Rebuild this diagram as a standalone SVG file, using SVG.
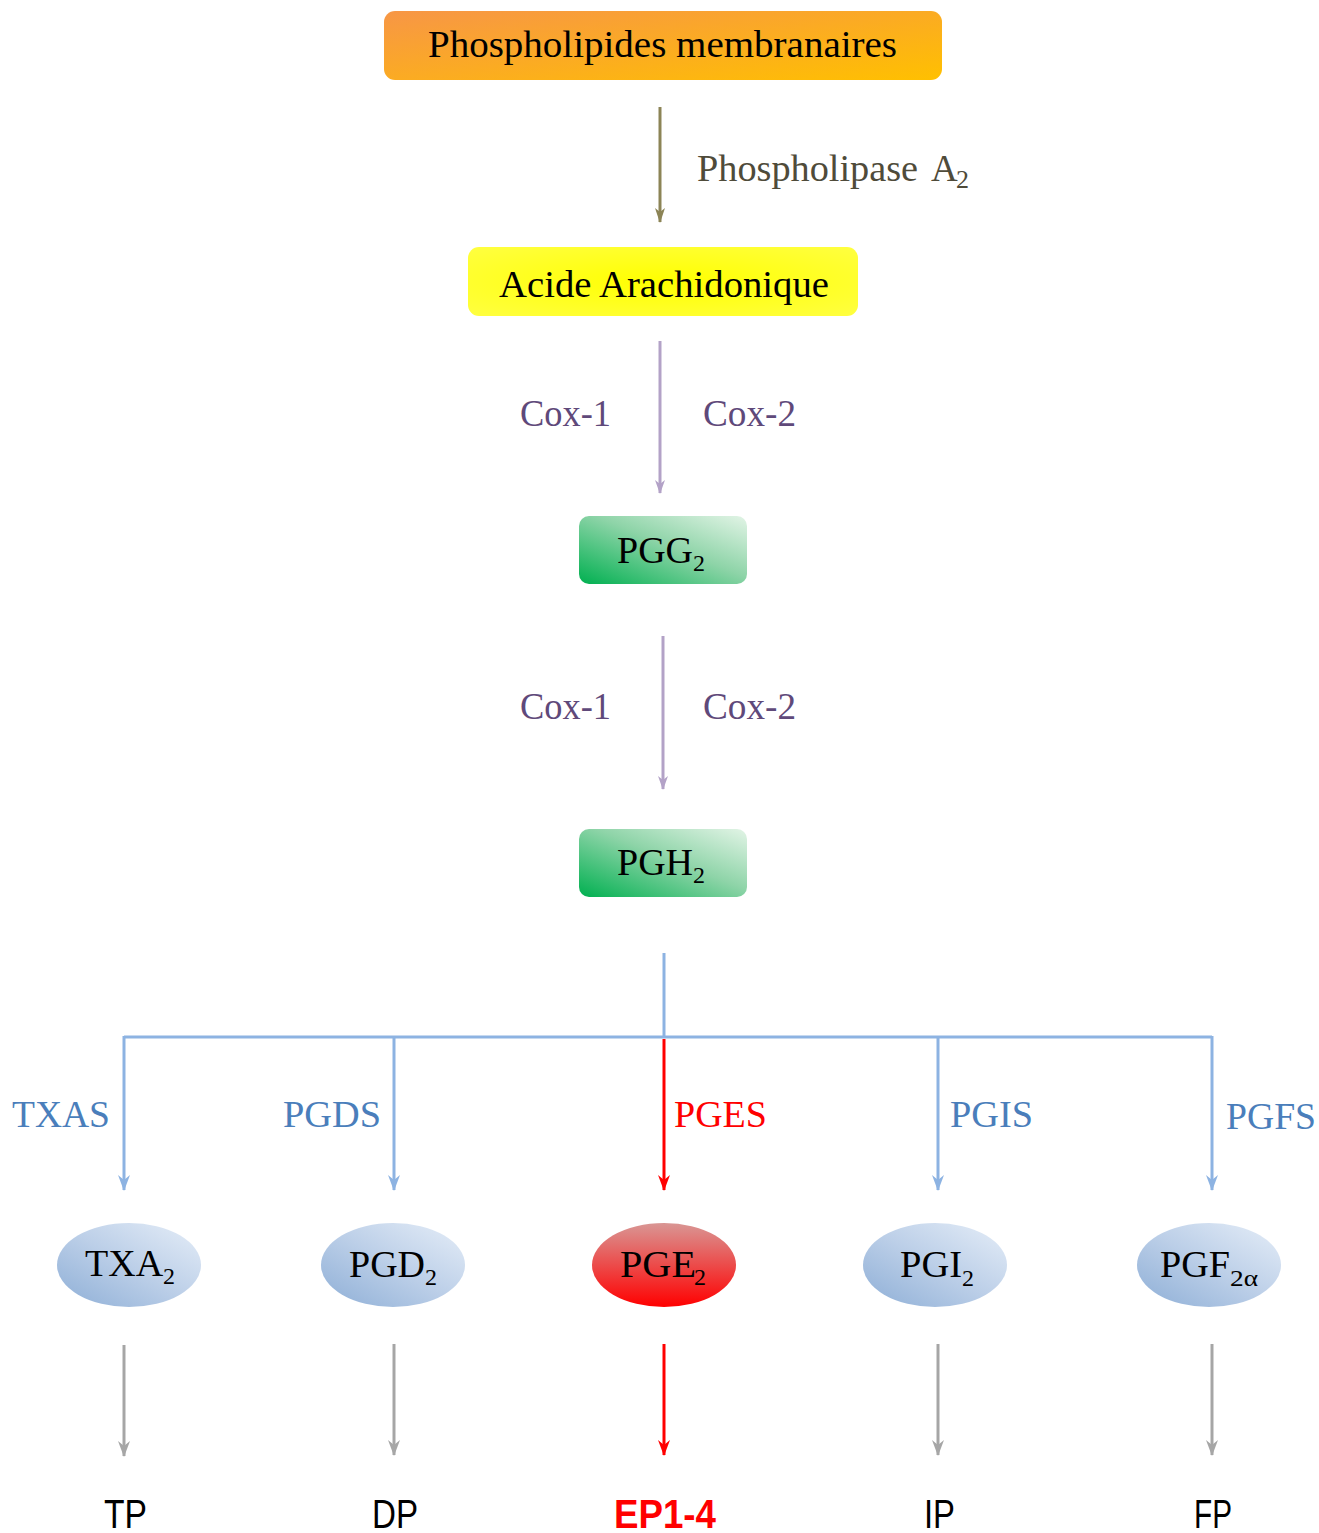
<svg xmlns="http://www.w3.org/2000/svg" width="1319" height="1533" viewBox="0 0 1319 1533">
<defs>
<linearGradient id="gOrange" x1="0" y1="0" x2="1" y2="1">
<stop offset="0" stop-color="#F79646"/><stop offset="1" stop-color="#FFC000"/>
</linearGradient>
<radialGradient id="gYellow" cx="0.5" cy="0.5" r="0.7">
<stop offset="0" stop-color="#FFFF00"/><stop offset="1" stop-color="#FFFF40"/>
</radialGradient>
<linearGradient id="gGreen" x1="0" y1="1" x2="1" y2="0">
<stop offset="0" stop-color="#00B050"/><stop offset="0.55" stop-color="#8ED4A8"/><stop offset="1" stop-color="#E2F4E6"/>
</linearGradient>
<linearGradient id="gBlue" x1="0" y1="1" x2="1" y2="0">
<stop offset="0" stop-color="#8DAED6"/><stop offset="0.5" stop-color="#BCCFE8"/><stop offset="1" stop-color="#E6EEF8"/>
</linearGradient>
<linearGradient id="gRed" x1="0" y1="0" x2="0" y2="1">
<stop offset="0" stop-color="#D99694"/><stop offset="1" stop-color="#FF0000"/>
</linearGradient>
<marker id="aOlive" markerWidth="10" markerHeight="15" refX="5" refY="14" markerUnits="userSpaceOnUse" viewBox="0 0 10 15">
<path d="M0,0 L5,15 L10,0 L5,4 Z" fill="#8C8456"/>
</marker>
<marker id="aPurple" markerWidth="10" markerHeight="14" refX="5" refY="13" markerUnits="userSpaceOnUse" viewBox="0 0 10 14">
<path d="M0,0 L5,14 L10,0 L5,4 Z" fill="#B3A2C7"/>
</marker>
<marker id="aBlue" markerWidth="12" markerHeight="16" refX="6" refY="15" markerUnits="userSpaceOnUse" viewBox="0 0 12 16">
<path d="M0,0 L6,16 L12,0 L6,5 Z" fill="#8DB3E2"/>
</marker>
<marker id="aRed" markerWidth="12" markerHeight="16" refX="6" refY="15" markerUnits="userSpaceOnUse" viewBox="0 0 12 16">
<path d="M0,0 L6,16 L12,0 L6,5 Z" fill="#FF0000"/>
</marker>
<marker id="aGrey" markerWidth="12" markerHeight="16" refX="6" refY="15" markerUnits="userSpaceOnUse" viewBox="0 0 12 16">
<path d="M0,0 L6,16 L12,0 L6,5 Z" fill="#A6A6A6"/>
</marker>
</defs>
<style>
.serif{font-family:"Liberation Serif","Times New Roman",serif;}
.sans{font-family:"Liberation Sans",Arial,sans-serif;}
.node{font-size:38px;fill:#000;}
.cox{font-size:37px;fill:#5F497A;}
.enz{font-size:37px;fill:#4A7EBB;}
.rec{font-size:40px;fill:#000;}
.sub{font-size:24px;}
</style>
<rect width="1319" height="1533" fill="#FFFFFF"/>

<g id="connectors" fill="none">
<line x1="660" y1="107" x2="660" y2="222" stroke="#8C8456" stroke-width="3" marker-end="url(#aOlive)"/>
<line x1="660" y1="341" x2="660" y2="493" stroke="#B3A2C7" stroke-width="3" marker-end="url(#aPurple)"/>
<line x1="663" y1="636" x2="663" y2="789" stroke="#B3A2C7" stroke-width="3" marker-end="url(#aPurple)"/>
<line x1="664" y1="953" x2="664" y2="1037" stroke="#8DB3E2" stroke-width="3"/>
<line x1="124" y1="1037" x2="1212" y2="1037" stroke="#8DB3E2" stroke-width="3"/>
<line x1="124" y1="1036" x2="124" y2="1190" stroke="#8DB3E2" stroke-width="3" marker-end="url(#aBlue)"/>
<line x1="394" y1="1036" x2="394" y2="1190" stroke="#8DB3E2" stroke-width="3" marker-end="url(#aBlue)"/>
<line x1="664" y1="1039" x2="664" y2="1190" stroke="#FF0000" stroke-width="3" marker-end="url(#aRed)"/>
<line x1="938" y1="1036" x2="938" y2="1190" stroke="#8DB3E2" stroke-width="3" marker-end="url(#aBlue)"/>
<line x1="1212" y1="1036" x2="1212" y2="1190" stroke="#8DB3E2" stroke-width="3" marker-end="url(#aBlue)"/>
<line x1="124" y1="1345" x2="124" y2="1456" stroke="#A6A6A6" stroke-width="3" marker-end="url(#aGrey)"/>
<line x1="394" y1="1344" x2="394" y2="1455" stroke="#A6A6A6" stroke-width="3" marker-end="url(#aGrey)"/>
<line x1="664" y1="1344" x2="664" y2="1455" stroke="#FF0000" stroke-width="3" marker-end="url(#aRed)"/>
<line x1="938" y1="1344" x2="938" y2="1455" stroke="#A6A6A6" stroke-width="3" marker-end="url(#aGrey)"/>
<line x1="1212" y1="1344" x2="1212" y2="1455" stroke="#A6A6A6" stroke-width="3" marker-end="url(#aGrey)"/>
</g>

<g id="labels" class="serif">
<text x="697" y="181" font-size="37" fill="#4F4B3A" textLength="221" lengthAdjust="spacingAndGlyphs">Phospholipase</text><text x="931" y="181" font-size="37" fill="#4F4B3A">A</text><text x="956" y="188" fill="#4F4B3A" font-size="26">2</text>
<text x="520" y="426" class="cox" textLength="91" lengthAdjust="spacingAndGlyphs">Cox-1</text>
<text x="703" y="426" class="cox" textLength="93" lengthAdjust="spacingAndGlyphs">Cox-2</text>
<text x="520" y="719" class="cox" textLength="91" lengthAdjust="spacingAndGlyphs">Cox-1</text>
<text x="703" y="719" class="cox" textLength="93" lengthAdjust="spacingAndGlyphs">Cox-2</text>
<text x="12" y="1127" class="enz" textLength="98" lengthAdjust="spacingAndGlyphs">TXAS</text>
<text x="283" y="1127" class="enz" textLength="98" lengthAdjust="spacingAndGlyphs">PGDS</text>
<text x="674" y="1127" class="enz" style="fill:#FF0000" textLength="93" lengthAdjust="spacingAndGlyphs">PGES</text>
<text x="950" y="1127" class="enz" textLength="83" lengthAdjust="spacingAndGlyphs">PGIS</text>
<text x="1226" y="1129" class="enz" textLength="90" lengthAdjust="spacingAndGlyphs">PGFS</text>
</g>

<g id="n-phospholipides">
<rect x="384" y="11" width="558" height="69" rx="11" fill="url(#gOrange)"/>
<text x="428" y="57" class="serif node" textLength="469" lengthAdjust="spacingAndGlyphs">Phospholipides membranaires</text>
</g>

<g id="n-acide">
<rect x="468" y="247" width="390" height="69" rx="11" fill="url(#gYellow)"/>
<text x="499" y="297" class="serif node" textLength="330" lengthAdjust="spacingAndGlyphs">Acide Arachidonique</text>
</g>

<g id="n-pgg2">
<rect x="579" y="516" width="168" height="68" rx="10" fill="url(#gGreen)"/>
<text x="617" y="563" class="serif node">PGG<tspan class="sub" dy="8">2</tspan></text>
</g>

<g id="n-pgh2">
<rect x="579" y="829" width="168" height="68" rx="10" fill="url(#gGreen)"/>
<text x="617" y="875" class="serif node">PGH<tspan class="sub" dy="8">2</tspan></text>
</g>

<g id="n-txa2">
<ellipse cx="129" cy="1265" rx="72" ry="42" fill="url(#gBlue)"/>
<text x="85" y="1276" class="serif node">TXA<tspan class="sub" dy="8">2</tspan></text>
</g>
<g id="n-pgd2">
<ellipse cx="393" cy="1265" rx="72" ry="42" fill="url(#gBlue)"/>
<text x="349" y="1277" class="serif node">PGD<tspan class="sub" dy="8">2</tspan></text>
</g>
<g id="n-pge2">
<ellipse cx="664" cy="1265" rx="72" ry="42" fill="url(#gRed)"/>
<text x="620" y="1277" class="serif node" textLength="76" lengthAdjust="spacingAndGlyphs">PGE</text><text x="694" y="1285" class="serif sub">2</text>
</g>
<g id="n-pgi2">
<ellipse cx="935" cy="1265" rx="72" ry="42" fill="url(#gBlue)"/>
<text x="900" y="1277" class="serif node" textLength="62" lengthAdjust="spacingAndGlyphs">PGI</text><text x="962" y="1286" class="serif sub">2</text>
</g>
<g id="n-pgf2a">
<ellipse cx="1209" cy="1265" rx="72" ry="42" fill="url(#gBlue)"/>
<text x="1160" y="1277" class="serif node" textLength="70" lengthAdjust="spacingAndGlyphs">PGF</text><text x="1230" y="1286" class="serif sub" textLength="28" lengthAdjust="spacingAndGlyphs">2α</text>
</g>

<g id="n-tp"><text x="104" y="1528" class="sans rec" textLength="43" lengthAdjust="spacingAndGlyphs">TP</text></g>
<g id="n-dp"><text x="372" y="1528" class="sans rec" textLength="46" lengthAdjust="spacingAndGlyphs">DP</text></g>
<g id="n-ep"><text x="614" y="1528" class="sans rec" font-weight="bold" style="fill:#FF0000" textLength="102" lengthAdjust="spacingAndGlyphs">EP1-4</text></g>
<g id="n-ip"><text x="924" y="1528" class="sans rec" textLength="31" lengthAdjust="spacingAndGlyphs">IP</text></g>
<g id="n-fp"><text x="1194" y="1528" class="sans rec" textLength="38" lengthAdjust="spacingAndGlyphs">FP</text></g>
</svg>
